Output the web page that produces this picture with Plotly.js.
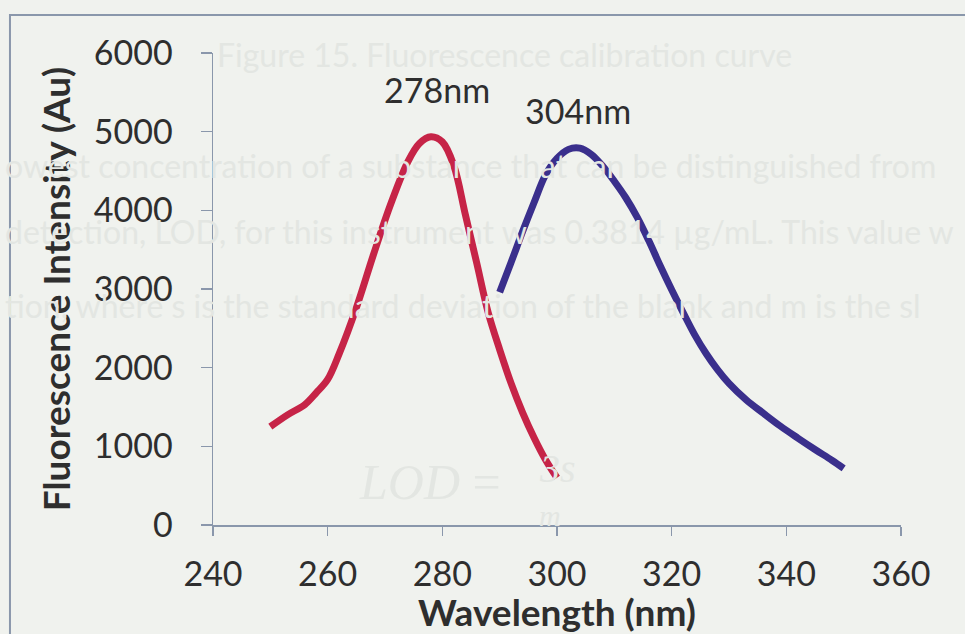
<!DOCTYPE html>
<html>
<head>
<meta charset="utf-8">
<script src="https://cdn.plot.ly/plotly-3.0.1.min.js"></script>
<style>
  html, body { margin: 0; padding: 0; background: #F0F2EE; }
  #chart { width: 965px; height: 634px; }
</style>
</head>
<body>
<div id="chart"></div>
<script>
// ---- data ----
const wavelength278 = [250, 253, 256, 258, 260, 262, 265, 268, 271, 274, 276, 278, 280, 282, 284, 286, 288, 290, 292, 294, 296, 298, 300];
const intensity278  = [1250, 1400, 1530, 1680, 1850, 2175, 2760, 3440, 4080, 4620, 4850, 4935, 4870, 4570, 3950, 3330, 2700, 2230, 1800, 1430, 1110, 830, 600];

const wavelength304 = [290, 292, 294, 296, 298, 300, 302, 304, 306, 308, 310, 312, 314, 316, 318, 320, 322, 324, 326, 328, 330, 333, 336, 339, 342, 345, 348, 350];
const intensity304  = [2960, 3340, 3730, 4100, 4450, 4660, 4775, 4790, 4710, 4560, 4370, 4160, 3910, 3615, 3295, 2990, 2700, 2420, 2180, 1975, 1800, 1590, 1420, 1255, 1105, 960, 820, 720];

const peakLabels = ['278nm', '304nm'];
const xTicks = [240, 260, 280, 300, 320, 340, 360];
const yTicks = [0, 1000, 2000, 3000, 4000, 5000, 6000];

// faint text showing through from the other side of the scanned page
const bleedLines = [
  'Figure 15. Fluorescence calibration curve',
  'owest concentration of a substance that can be distinguished from',
  'detection, LOD, for this instrument was 0.3814 \u00b5g/mL. This value w',
  'tion, where s is the standard deviation of the blank and m is the sl'
];

const red = '#C62447';
const blue = '#3A2F8C';
const axisCol = '#8A97AB';
const textCol = '#2E2E2E';
const bleedCol = '#E3E6E2';
const fontFam = 'Lato, "Open Sans", sans-serif';

function peakOf(xs, ys) {
  let i = 0;
  ys.forEach((v, k) => { if (v > ys[i]) i = k; });
  return [xs[i], ys[i]];
}
const p1 = peakOf(wavelength278, intensity278);
const p2 = peakOf(wavelength304, intensity304);

const traces = [
  { x: wavelength278, y: intensity278, type: 'scatter', mode: 'lines',
    line: { color: red, width: 7, shape: 'spline', smoothing: 1 }, name: '278nm', hoverinfo: 'x+y' },
  { x: wavelength304, y: intensity304, type: 'scatter', mode: 'lines',
    line: { color: blue, width: 7, shape: 'spline', smoothing: 1 }, name: '304nm', hoverinfo: 'x+y' }
];

const bleedFont = { family: fontFam, size: 32, color: bleedCol };
const serif = '"Liberation Serif", "DejaVu Serif", serif';
const annotations = [
  { x: 0.4244, y: 0.9958, xref: 'paper', yref: 'paper', text: bleedLines[0], showarrow: false,
    xanchor: 'center', yanchor: 'middle', font: bleedFont },
  { x: -0.305, y: 0.7606, xref: 'paper', yref: 'paper', text: bleedLines[1], showarrow: false,
    xanchor: 'left', yanchor: 'middle', font: bleedFont },
  { x: -0.305, y: 0.6208, xref: 'paper', yref: 'paper', text: bleedLines[2], showarrow: false,
    xanchor: 'left', yanchor: 'middle', font: bleedFont },
  { x: -0.305, y: 0.4661, xref: 'paper', yref: 'paper', text: bleedLines[3], showarrow: false,
    xanchor: 'left', yanchor: 'middle', font: bleedFont },
  { x: 0.315, y: 0.092, xref: 'paper', yref: 'paper', text: '<i>LOD</i> =', showarrow: false,
    xanchor: 'center', yanchor: 'middle', font: { family: serif, size: 50, color: bleedCol } },
  { x: 0.5, y: 0.12, xref: 'paper', yref: 'paper', text: '<i>3s</i>', showarrow: false,
    xanchor: 'center', yanchor: 'middle', font: { family: serif, size: 40, color: bleedCol } },
  { x: 0.49, y: 0.02, xref: 'paper', yref: 'paper', text: '<i>m</i>', showarrow: false,
    xanchor: 'center', yanchor: 'middle', font: { family: serif, size: 30, color: bleedCol } },
  { x: p1[0], y: p1[1], xref: 'x', yref: 'y', text: peakLabels[0], showarrow: false,
    yanchor: 'bottom', xshift: 6, yshift: 25, font: { family: fontFam, size: 34, color: textCol } },
  { x: p2[0], y: p2[1], xref: 'x', yref: 'y', text: peakLabels[1], showarrow: false,
    yanchor: 'bottom', xshift: -2, yshift: 15, font: { family: fontFam, size: 34, color: textCol } }
];

const layout = {
  width: 965, height: 634,
  margin: { l: 213, r: 64, t: 53, b: 109, pad: 0 },
  paper_bgcolor: '#F0F2EE',
  plot_bgcolor: 'rgba(0,0,0,0)',
  showlegend: false,
  font: { family: fontFam, color: textCol },
  xaxis: {
    range: [240, 360], tickvals: xTicks, ticktext: xTicks.map(String),
    showgrid: false, zeroline: false, showline: true, linecolor: axisCol, linewidth: 1.5,
    ticks: 'outside', ticklen: 9, tickwidth: 1.5, tickcolor: axisCol,
    ticklabelstandoff: 10,
    tickfont: { family: fontFam, size: 34, color: textCol },
    title: { text: '<b>Wavelength (nm)</b>', font: { family: fontFam, size: 37, color: textCol }, standoff: 0 }
  },
  yaxis: {
    range: [0, 6000], tickvals: yTicks, ticktext: yTicks.map(String),
    showgrid: false, zeroline: false, showline: true, linecolor: axisCol, linewidth: 1.5,
    ticks: 'outside', ticklen: 11, tickwidth: 1.5, tickcolor: axisCol,
    ticklabelstandoff: 21,
    tickfont: { family: fontFam, size: 34, color: textCol },
    title: { text: '<b>Fluorescence Intensity (Au)</b>', font: { family: fontFam, size: 37, color: textCol }, standoff: 12 }
  },
  shapes: [
    { type: 'rect', xref: 'paper', yref: 'paper', x0: -0.2951, x1: 1.2, y0: -0.4, y1: 1.0805,
      line: { color: axisCol, width: 2 }, fillcolor: 'rgba(0,0,0,0)', layer: 'below' }
  ],
  annotations: annotations
};

Plotly.newPlot('chart', traces, layout, { displayModeBar: false, staticPlot: true });
</script>
</body>
</html>
